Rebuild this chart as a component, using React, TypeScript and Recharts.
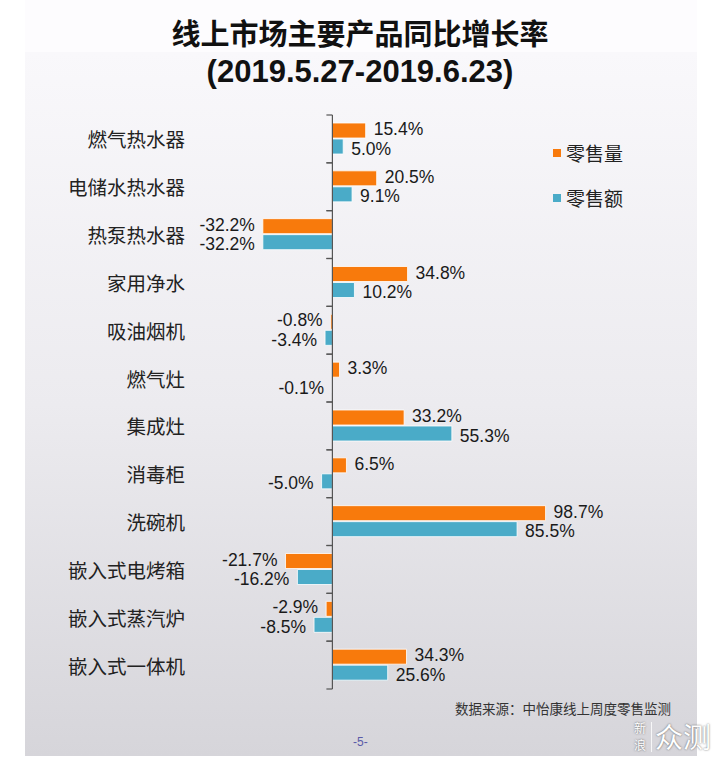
import React from 'react';
import {
  BarChart,
  Bar,
  XAxis,
  YAxis,
  LabelList,
  ReferenceLine
} from 'recharts';

// categories, top to bottom
const categories = [
  '燃气热水器',
  '电储水热水器',
  '热泵热水器',
  '家用净水',
  '吸油烟机',
  '燃气灶',
  '集成灶',
  '消毒柜',
  '洗碗机',
  '嵌入式电烤箱',
  '嵌入式蒸汽炉',
  '嵌入式一体机'
];
// 零售量 同比 (%)
const volumeGrowth = [15.4, 20.5, -32.2, 34.8, -0.8, 3.3, 33.2, 6.5, 98.7, -21.7, -2.9, 34.3];
// 零售额 同比 (%)
const amountGrowth = [5.0, 9.1, -32.2, 10.2, -3.4, -0.1, 55.3, -5.0, 85.5, -16.2, -8.5, 25.6];
const seriesNames = ['零售量', '零售额'];

const data = categories.map((name, i) => ({
  name,
  volume: volumeGrowth[i],
  amount: amountGrowth[i]
}));

const W = 720;
const H = 763;
const MARGIN = { top: 115, right: 150, bottom: 74, left: 0 };
const Y_AXIS_W = 246;
const X_MIN = -40;
const X_MAX = 110;
const PLOT_W = W - MARGIN.left - MARGIN.right - Y_AXIS_W;
const PLOT_H = H - MARGIN.top - MARGIN.bottom;
const ZERO_X = MARGIN.left + Y_AXIS_W + ((0 - X_MIN) / (X_MAX - X_MIN)) * PLOT_W;
const BAND = PLOT_H / categories.length;
const LABEL_RIGHT = 185;

const ORANGE = '#f87a0c';
const TEAL = '#4aabc8';
const AXIS = '#555';
const CJK = '"Noto Sans CJK SC", "Noto Sans", sans-serif';
const LATIN = '"Liberation Sans", Arial, sans-serif';

const CategoryTick = (props: any) => {
  const { y, payload } = props;
  return (
    <g>
      <text
        x={LABEL_RIGHT}
        y={y}
        textAnchor="end"
        dominantBaseline="central"
        fontSize={19.5}
        fontFamily={CJK}
        fill="#222"
      >
        {payload.value}
      </text>
      <line x1={ZERO_X - 6} x2={ZERO_X} y1={y - BAND / 2} y2={y - BAND / 2} stroke={AXIS} strokeWidth={1.2} />
      <line x1={ZERO_X - 6} x2={ZERO_X} y1={y + BAND / 2} y2={y + BAND / 2} stroke={AXIS} strokeWidth={1.2} />
    </g>
  );
};

// shift: orange labels nudge up, teal labels nudge down
const makeValueLabel = (shift: number) => (props: any) => {
  const { x, y, width, height, value } = props;
  const left = Math.min(x, x + width);
  const right = Math.max(x, x + width);
  const neg = value < 0;
  return (
    <text
      x={neg ? left - 8 : right + 8}
      y={y + height / 2 + shift}
      textAnchor={neg ? 'end' : 'start'}
      dominantBaseline="central"
      fontSize={17.5}
      fontFamily={LATIN}
      fill="#1a1a1a"
    >
      {value.toFixed(1) + '%'}
    </text>
  );
};
const VolumeLabel = makeValueLabel(-1.5);
const AmountLabel = makeValueLabel(2);

const badge = {
  position: 'absolute' as const,
  fontFamily: CJK,
  color: '#fff',
  textShadow: '0 0 2px rgba(0,0,0,0.6)',
  whiteSpace: 'nowrap' as const
};

const App: React.FC = () => {
  return (
    <div style={{ position: 'absolute', left: 0, top: 0, width: W, height: H, background: '#fff', overflow: 'hidden' }}>
      {/* slide background */}
      <div style={{ position: 'absolute', left: 25, top: 0, width: 672, height: 52, background: '#fdfcfe' }} />
      <div
        style={{
          position: 'absolute',
          left: 25,
          top: 52,
          width: 672,
          height: 704,
          background: 'linear-gradient(#f9f8fb 0%, #ecebef 50%, #d6d5da 100%)'
        }}
      />

      <div
        style={{
          position: 'absolute',
          left: 0,
          top: 11,
          width: W,
          textAlign: 'center',
          fontFamily: CJK,
          fontWeight: 700,
          fontSize: 29,
          color: '#111'
        }}
      >
        线上市场主要产品同比增长率
      </div>
      <div
        style={{
          position: 'absolute',
          left: 0,
          top: 54,
          width: W,
          textAlign: 'center',
          fontFamily: LATIN,
          fontWeight: 700,
          fontSize: 31,
          color: '#111'
        }}
      >
        (2019.5.27-2019.6.23)
      </div>

      <div style={{ position: 'absolute', left: 0, top: 0 }}>
        <BarChart width={W} height={H} data={data} layout="vertical" margin={MARGIN} barSize={15} barGap={1}>
          <XAxis type="number" domain={[X_MIN, X_MAX]} hide />
          <YAxis
            type="category"
            dataKey="name"
            width={Y_AXIS_W}
            axisLine={false}
            tickLine={false}
            interval={0}
            tick={<CategoryTick />}
          />
          <Bar dataKey="volume" name={seriesNames[0]} fill={ORANGE} stroke="#fff" strokeWidth={0.8} isAnimationActive={false}>
            <LabelList dataKey="volume" content={<VolumeLabel />} />
          </Bar>
          <Bar dataKey="amount" name={seriesNames[1]} fill={TEAL} stroke="#fff" strokeWidth={0.8} isAnimationActive={false}>
            <LabelList dataKey="amount" content={<AmountLabel />} />
          </Bar>
          <ReferenceLine x={0} stroke={AXIS} strokeWidth={1.2} />
        </BarChart>
      </div>

      {/* legend */}
      <div style={{ position: 'absolute', left: 553, top: 130 }}>
        {seriesNames.map((n, i) => (
          <div
            key={n}
            style={{ display: 'flex', alignItems: 'center', height: 45, fontFamily: CJK, fontSize: 19, color: '#222' }}
          >
            <span style={{ width: 8, height: 8, background: i === 0 ? ORANGE : TEAL, marginRight: 5, display: 'inline-block' }} />
            {n}
          </div>
        ))}
      </div>

      <div
        style={{
          position: 'absolute',
          left: 455,
          top: 700,
          fontFamily: CJK,
          fontSize: 13.5,
          lineHeight: '17px',
          color: '#333',
          whiteSpace: 'nowrap'
        }}
      >
        数据来源：中怡康线上周度零售监测
      </div>
      <div style={{ position: 'absolute', left: 353, top: 735, fontFamily: LATIN, fontSize: 12, color: '#5a5aa8' }}>-5-</div>

      {/* 新浪众测 badge */}
      <div style={{ ...badge, left: 634, top: 720, fontSize: 12, lineHeight: '16px' }}>新</div>
      <div style={{ ...badge, left: 634, top: 737, fontSize: 12, lineHeight: '16px' }}>浪</div>
      <div style={{ position: 'absolute', left: 651, top: 722, width: 1, height: 30, background: 'rgba(255,255,255,0.8)' }} />
      <div style={{ ...badge, left: 655, top: 720, fontSize: 28, lineHeight: '32px' }}>众测</div>
    </div>
  );
};

export default App;
